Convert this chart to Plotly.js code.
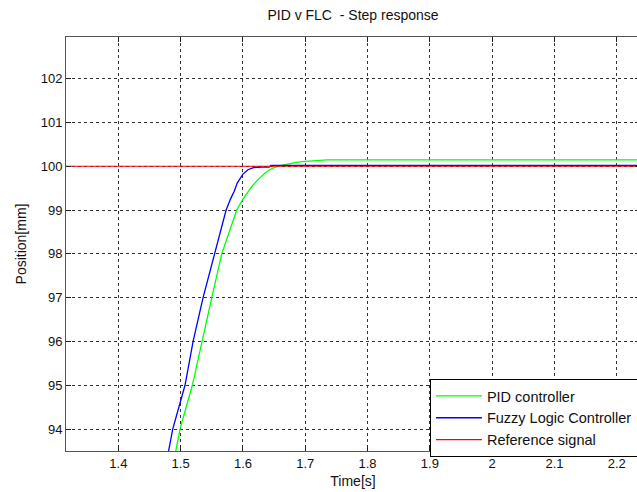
<!DOCTYPE html>
<html>
<head>
<meta charset="utf-8">
<script src="https://cdn.plot.ly/plotly-3.0.1.min.js"></script>
<style>
html,body{margin:0;padding:0;overflow:hidden;background:#fff;}
#chart{width:640px;height:492px;}
</style>
</head>
<body>
<div id="chart"></div>
<script>
// Time samples and responses
const pidTime = [1.480, 1.4926, 1.499, 1.5188, 1.534, 1.550, 1.566, 1.578, 1.590, 1.600, 1.608, 1.615, 1.622, 1.630, 1.636, 1.643, 1.650, 1.657, 1.665, 1.675, 1.685, 1.700, 1.720, 1.735, 2.300];
const pidPos  = [92.6, 93.5, 94.0, 95.0, 96.0, 97.0, 98.0, 98.5, 99.0, 99.25, 99.42, 99.55, 99.66, 99.77, 99.85, 99.92, 99.97, 100.00, 100.03, 100.06, 100.09, 100.11, 100.13, 100.145, 100.145];

const flcTime = [1.474, 1.4809, 1.4873, 1.507, 1.520, 1.536, 1.554, 1.573, 1.580, 1.586, 1.591, 1.600, 1.608, 1.617, 1.630, 1.642, 1.645, 2.300];
const flcPos  = [93.0, 93.5, 94.0, 95.0, 96.0, 97.0, 98.0, 99.0, 99.25, 99.43, 99.62, 99.82, 99.92, 99.97, 99.98, 99.98, 100.02, 100.02];

const refTime = [1.0, 2.3];
const refPos  = [100, 100];

const xTickVals = [1.4, 1.5, 1.6, 1.7, 1.8, 1.9, 2.0, 2.1, 2.2];
const xTickText = ["1.4", "1.5", "1.6", "1.7", "1.8", "1.9", "2", "2.1", "2.2"];
const yTickVals = [94, 95, 96, 97, 98, 99, 100, 101, 102];
const yTickText = ["94", "95", "96", "97", "98", "99", "100", "101", "102"];

const fam = "Liberation Sans, Arial, sans-serif";
const tickFont = {family: fam, size: 13, color: "#111"};
const textFont = {family: fam, size: 14, color: "#111"};
const legendFont = {family: fam, size: 14.5, color: "#111"};

const traces = [
  {x: pidTime, y: pidPos, name: "PID controller", mode: "lines",
   line: {color: "#00ff00", width: 1.3}},
  {x: flcTime, y: flcPos, name: "Fuzzy Logic Controller", mode: "lines",
   line: {color: "#0000ff", width: 1.3}},
  {x: refTime, y: refPos, name: "Reference signal", mode: "lines",
   line: {color: "#ff0000", width: 1.2}}
];

const axisCommon = {
  showgrid: true, gridcolor: "#333", griddash: "3px,3px", gridwidth: 1,
  showline: true, linecolor: "#555", linewidth: 1, mirror: "ticks",
  ticks: "inside", ticklen: 5, tickcolor: "#222", tickfont: tickFont,
  zeroline: false, tickmode: "array"
};

const layout = {
  width: 640, height: 492,
  margin: {l: 66, r: 0, t: 37, b: 41},
  paper_bgcolor: "#fff", plot_bgcolor: "#fff",
  font: tickFont,
  title: {text: "PID v FLC  - Step response", font: textFont, x: 0.5, xref: "paper", y: 0.97, yref: "container", yanchor: "middle"},
  xaxis: Object.assign({}, axisCommon, {
    range: [1.316, 2.2373], tickvals: xTickVals, ticktext: xTickText,
    title: {text: "Time[s]", font: textFont, standoff: 6}
  }),
  yaxis: Object.assign({}, axisCommon, {
    range: [93.5, 102.95], tickvals: yTickVals, ticktext: yTickText,
    title: {text: "Position[mm]", font: textFont, standoff: 10}
  }),
  showlegend: true,
  legend: {x: 0.634, y: 0.174, xanchor: "left", yanchor: "top",
           bgcolor: "#fff", bordercolor: "#000", borderwidth: 1,
           font: legendFont, tracegroupgap: 0, itemwidth: 46},
};

Plotly.newPlot("chart", traces, layout, {displayModeBar: false, staticPlot: true});
</script>
</body>
</html>
